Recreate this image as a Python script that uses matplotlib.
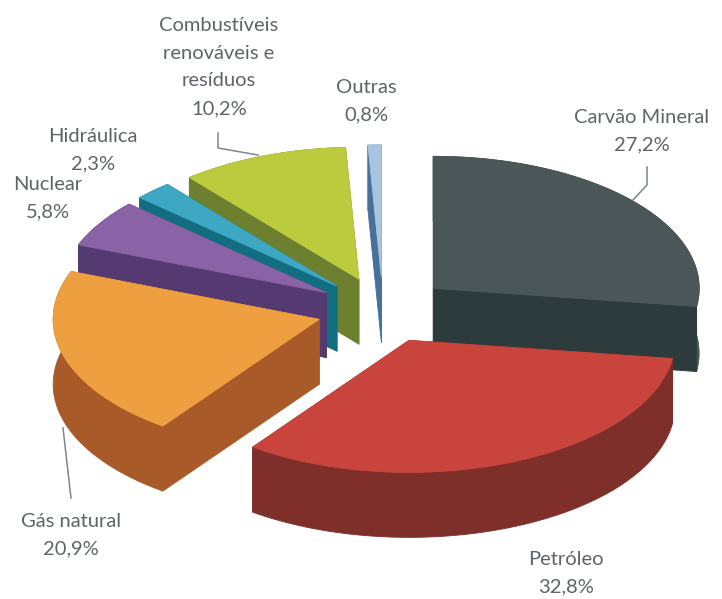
import numpy as np
from matplotlib import pyplot as plt

#############################   DATA   #############################
names=['Carvão Mineral','Petróleo','Gás natural','Nuclear','Hidráulica','Combustíveis\nrenováveis e\nresíduos','Outras']
shares=[27.2,32.8,20.9,5.8,2.3,10.2,0.8]
share_labels=['27,2%','32,8%','20,9%','5,8%','2,3%','10,2%','0,8%']

top_colors=['#4a5657','#c8443c','#ee9f3f','#8a62a6','#3ea7c4','#bccb3d','#a9c4de']
side_colors=['#2e3b3c','#7f2f2a','#a85a28','#553a72','#136d80','#6c8030','#47709b']
rim_colors=['#4a5657','#7f2f2a','#a85a28','#553a72','#136d80','#6c8030','#47709b']

# painter's order, back slices first
draw_order=[6,5,4,3,0,2,1]

# label centres in picture pixels
label_x=[642,566,71,48,93,219,366]
label_y=[131,573,535,198,150,67,101]

#############################   LAYOUT   #############################
cx,cy=383,310
rx,ry=266,132
depth=65
explode=0.25
text_color='#5f6468'
leader_color='#7d868c'

plt.rcParams['font.family']=['Lato','DejaVu Sans']

fig=plt.figure(figsize=(7.22,5.99),dpi=100)
ax=fig.add_axes([0,0,1,1])
ax.set_xlim(0,722)
ax.set_ylim(599,0)
ax.axis('off')

# slice angles run clockwise from 12 o'clock
edges=np.radians(np.concatenate([[0],np.cumsum(shares)])*3.6)

def fill_poly(x,y,color,zorder):
    ax.fill(x,y,color=color,lw=0.6,zorder=zorder)

z=1
for i in draw_order:
    t0,t1=edges[i],edges[i+1]
    mid=(t0+t1)/2
    ox=cx+explode*rx*np.sin(mid)
    oy=cy-explode*ry*np.cos(mid)
    t=np.linspace(t0,t1,80)
    ax_x=ox+rx*np.sin(t)
    ax_y=oy-ry*np.cos(t)

    # outer rim
    fill_poly(np.r_[ax_x,ax_x[::-1]],np.r_[ax_y,ax_y[::-1]+depth],rim_colors[i],z)
    z+=1
    # the two cut faces
    for end in (0,-1):
        fill_poly([ox,ax_x[end],ax_x[end],ox],[oy,ax_y[end],ax_y[end]+depth,oy+depth],side_colors[i],z)
        z+=1
    # top face
    fill_poly(np.r_[ox,ax_x],np.r_[oy,ax_y],top_colors[i],z)
    z+=1

# leader lines
ax.plot([218,218,258],[133,148,155],color=leader_color,lw=1.1,zorder=z)
ax.plot([647,647,633],[167,185,200],color=leader_color,lw=1.1,zorder=z)
ax.plot([63,71],[428,498],color=leader_color,lw=1.1,zorder=z)

for i in range(len(names)):
    ax.text(label_x[i],label_y[i],names[i]+'\n'+share_labels[i],ha='center',va='center',
            fontsize=14.5,color=text_color,linespacing=1.78,zorder=z+1)

plt.savefig('out.png',dpi=100)
